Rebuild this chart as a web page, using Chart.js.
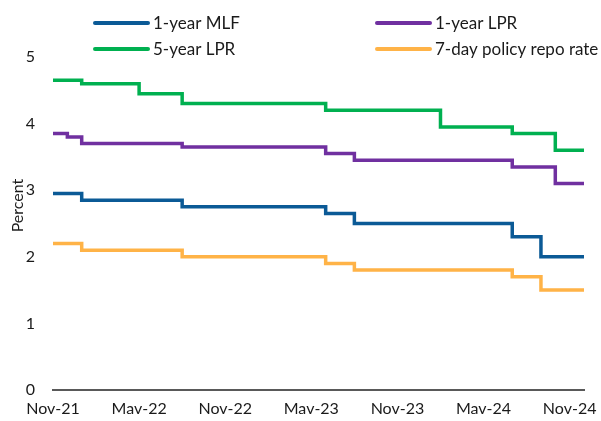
<!DOCTYPE html>
<html>
<head>
<meta charset="utf-8">
<script src="https://cdn.jsdelivr.net/npm/chart.js@4"></script>
<style>
  html, body { margin: 0; padding: 0; background: #ffffff; }
  #wrap { position: relative; width: 601px; height: 421px; }
</style>
</head>
<body>
<div id="wrap"><canvas id="rates"></canvas></div>
<script>
// Monthly observations, Nov-21 through Dec-24
const months = [
  "Nov-21","Dec-21","Jan-22","Feb-22","Mar-22","Apr-22","Mav-22","Jun-22","Jul-22","Aug-22","Sep-22","Oct-22",
  "Nov-22","Dec-22","Jan-23","Feb-23","Mar-23","Apr-23","Mav-23","Jun-23","Jul-23","Aug-23","Sep-23","Oct-23",
  "Nov-23","Dec-23","Jan-24","Feb-24","Mar-24","Apr-24","Mav-24","Jun-24","Jul-24","Aug-24","Sep-24","Oct-24",
  "Nov-24","Dec-24"
];

const mlf1y = [
  2.95, 2.95, 2.85, 2.85, 2.85, 2.85, 2.85, 2.85, 2.85, 2.75, 2.75, 2.75,
  2.75, 2.75, 2.75, 2.75, 2.75, 2.75, 2.75, 2.65, 2.65, 2.50, 2.50, 2.50,
  2.50, 2.50, 2.50, 2.50, 2.50, 2.50, 2.50, 2.50, 2.30, 2.30, 2.00, 2.00,
  2.00, 2.00
];

const lpr1y = [
  3.85, 3.80, 3.70, 3.70, 3.70, 3.70, 3.70, 3.70, 3.70, 3.65, 3.65, 3.65,
  3.65, 3.65, 3.65, 3.65, 3.65, 3.65, 3.65, 3.55, 3.55, 3.45, 3.45, 3.45,
  3.45, 3.45, 3.45, 3.45, 3.45, 3.45, 3.45, 3.45, 3.35, 3.35, 3.35, 3.10,
  3.10, 3.10
];

const lpr5y = [
  4.65, 4.65, 4.60, 4.60, 4.60, 4.60, 4.45, 4.45, 4.45, 4.30, 4.30, 4.30,
  4.30, 4.30, 4.30, 4.30, 4.30, 4.30, 4.30, 4.20, 4.20, 4.20, 4.20, 4.20,
  4.20, 4.20, 4.20, 3.95, 3.95, 3.95, 3.95, 3.95, 3.85, 3.85, 3.85, 3.60,
  3.60, 3.60
];

const repo7d = [
  2.20, 2.20, 2.10, 2.10, 2.10, 2.10, 2.10, 2.10, 2.10, 2.00, 2.00, 2.00,
  2.00, 2.00, 2.00, 2.00, 2.00, 2.00, 2.00, 1.90, 1.90, 1.80, 1.80, 1.80,
  1.80, 1.80, 1.80, 1.80, 1.80, 1.80, 1.80, 1.80, 1.70, 1.70, 1.50, 1.50,
  1.50, 1.50
];

const seriesNames = ["1-year MLF", "1-year LPR", "5-year LPR", "7-day policy repo rate"];
const seriesColors = ["#0B5A96", "#7030A0", "#00B050", "#FFB347"];
const yTicks = [0, 1, 2, 3, 4, 5];
const yTitle = "Percent";

const FONT = "Lato, 'Liberation Sans', sans-serif";
const TEXT = "#1a1a1a";

// Two-column legend above the plot
const gridLegend = {
  id: "gridLegend",
  afterDraw(chart, args, opts) {
    const ctx = chart.ctx;
    ctx.save();
    ctx.font = opts.fontSize + "px " + FONT;
    ctx.textBaseline = "middle";
    ctx.textAlign = "left";
    chart.data.datasets.forEach((ds, i) => {
      const col = i % 2, row = Math.floor(i / 2);
      const x = opts.columns[col];
      const y = opts.rows[row];
      ctx.strokeStyle = ds.borderColor;
      ctx.lineWidth = opts.lineWidth;
      ctx.lineCap = "round";
      ctx.beginPath();
      ctx.moveTo(x, y);
      ctx.lineTo(x + opts.lineLength, y);
      ctx.stroke();
      ctx.fillStyle = TEXT;
      ctx.fillText(ds.label, x + opts.lineLength + 5, y + 1);
    });
    ctx.restore();
  }
};

// Rotated y-axis caption, sitting a little above the middle of the plot
const sideTitle = {
  id: "sideTitle",
  afterDraw(chart, args, opts) {
    const ctx = chart.ctx;
    const area = chart.chartArea;
    ctx.save();
    ctx.font = opts.fontSize + "px " + FONT;
    ctx.fillStyle = TEXT;
    ctx.textAlign = "center";
    ctx.textBaseline = "middle";
    ctx.translate(opts.x, (area.top + area.bottom) / 2 - opts.raise);
    ctx.rotate(-Math.PI / 2);
    ctx.fillText(opts.text, 0, 0);
    ctx.restore();
  }
};

const values = [mlf1y, lpr1y, lpr5y, repo7d];

new Chart(document.getElementById("rates"), {
  type: "line",
  data: {
    labels: months,
    datasets: values.map((v, i) => ({
      label: seriesNames[i],
      data: v,
      borderColor: seriesColors[i],
      backgroundColor: seriesColors[i],
      borderWidth: 3.5,
      pointRadius: 0,
      stepped: "before",
      fill: false
    }))
  },
  options: {
    responsive: true,
    maintainAspectRatio: false,
    animation: false,
    layout: { padding: { top: 57, right: 17, left: 0, bottom: 0 } },
    plugins: {
      legend: { display: false },
      tooltip: { enabled: false },
      gridLegend: {
        columns: [95, 377],
        rows: [23, 49],
        lineLength: 53,
        lineWidth: 4,
        fontSize: 17
      },
      sideTitle: { text: yTitle, x: 18, raise: 18, fontSize: 16 }
    },
    scales: {
      x: {
        type: "category",
        offset: false,
        grid: { display: false, drawTicks: false },
        border: { display: true, color: "#595959", width: 2 },
        ticks: {
          autoSkip: false,
          maxRotation: 0,
          padding: 9,
          color: TEXT,
          font: { family: FONT, size: 16 },
          callback: (val, idx) => (idx % 6 === 0 ? months[idx] : "")
        },
        afterFit: (s) => { s.height = 31; }
      },
      y: {
        min: 0,
        max: 5,
        afterBuildTicks: (s) => { s.ticks = yTicks.map(v => ({ value: v })); },
        grid: { display: false, drawTicks: false },
        border: { display: false },
        ticks: {
          padding: 18,
          color: TEXT,
          font: { family: FONT, size: 16 }
        },
        afterFit: (s) => { s.width = 53; }
      }
    }
  },
  plugins: [gridLegend, sideTitle]
});
</script>
</body>
</html>
